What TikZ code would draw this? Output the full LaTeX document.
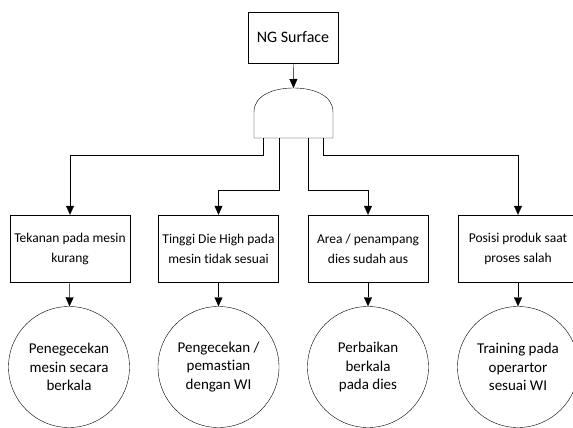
\documentclass[tikz,border=0pt]{standalone}
\usepackage{fontspec}
\setmainfont{Carlito}[Ligatures=CommonOff]
\usetikzlibrary{positioning, arrows.meta}

\begin{document}
\begin{tikzpicture}[x=1pt,y=-1pt,
    kotak/.style={draw, minimum width=120pt, minimum height=67pt, inner sep=0pt, align=center, font=\fontsize{13.5}{20}\selectfont},
    solusi/.style={draw, circle, minimum size=121pt, inner sep=0pt, align=center, font=\fontsize{15}{18.5}\selectfont},
    panah/.style={-{Triangle[width=8pt,length=9pt]}}]
    \useasboundingbox (0,0) rectangle (573,428);

    \node[draw, minimum width=90pt, minimum height=51pt, font=\fontsize{16}{19}\selectfont](ng)at(293,37.5){NG Surface};

    % gerbang AND
    \draw (254,138)--(254,112) .. controls (254,95) and (274,88) .. (293.5,88) .. controls (313,88) and (333,95) .. (333,112)--(333,138)--cycle;
    \coordinate (g) at (293.5,88);
    \coordinate (k1) at (263,138);
    \coordinate (k2) at (279,138);
    \coordinate (k3) at (308,138);
    \coordinate (k4) at (323,138);
    \draw [panah](ng)--(g);

    \node[kotak](p1)at(70,248.5){Tekanan pada mesin\\kurang};
    \node[kotak](p2)at(218.5,248.5){Tinggi Die High pada\\mesin tidak sesuai};
    \node[kotak](p3)at(368,248.5){Area / penampang\\dies sudah aus};
    \node[kotak](p4)at(518,248.5){Posisi produk saat\\proses salah};

    \draw [panah](k1)--++(0,17)-|(p1);
    \draw [panah](k2)--++(0,52)-|(p2);
    \draw [panah](k3)--++(0,52)-|(p3);
    \draw [panah](k4)--++(0,17)-|(p4);

    \node[solusi](s1)at(69,367){Penegecekan\\mesin secara\\berkala};
    \node[solusi](s2)at(218.5,367){Pengecekan /\\pemastian\\dengan WI};
    \node[solusi](s3)at(368,367){Perbaikan\\berkala\\pada dies};
    \node[solusi](s4)at(518,367){Training pada\\operartor\\sesuai WI};

    \foreach\i in{1,...,4}\draw [panah](p\i)--(s\i);
\end{tikzpicture}
\end{document}
